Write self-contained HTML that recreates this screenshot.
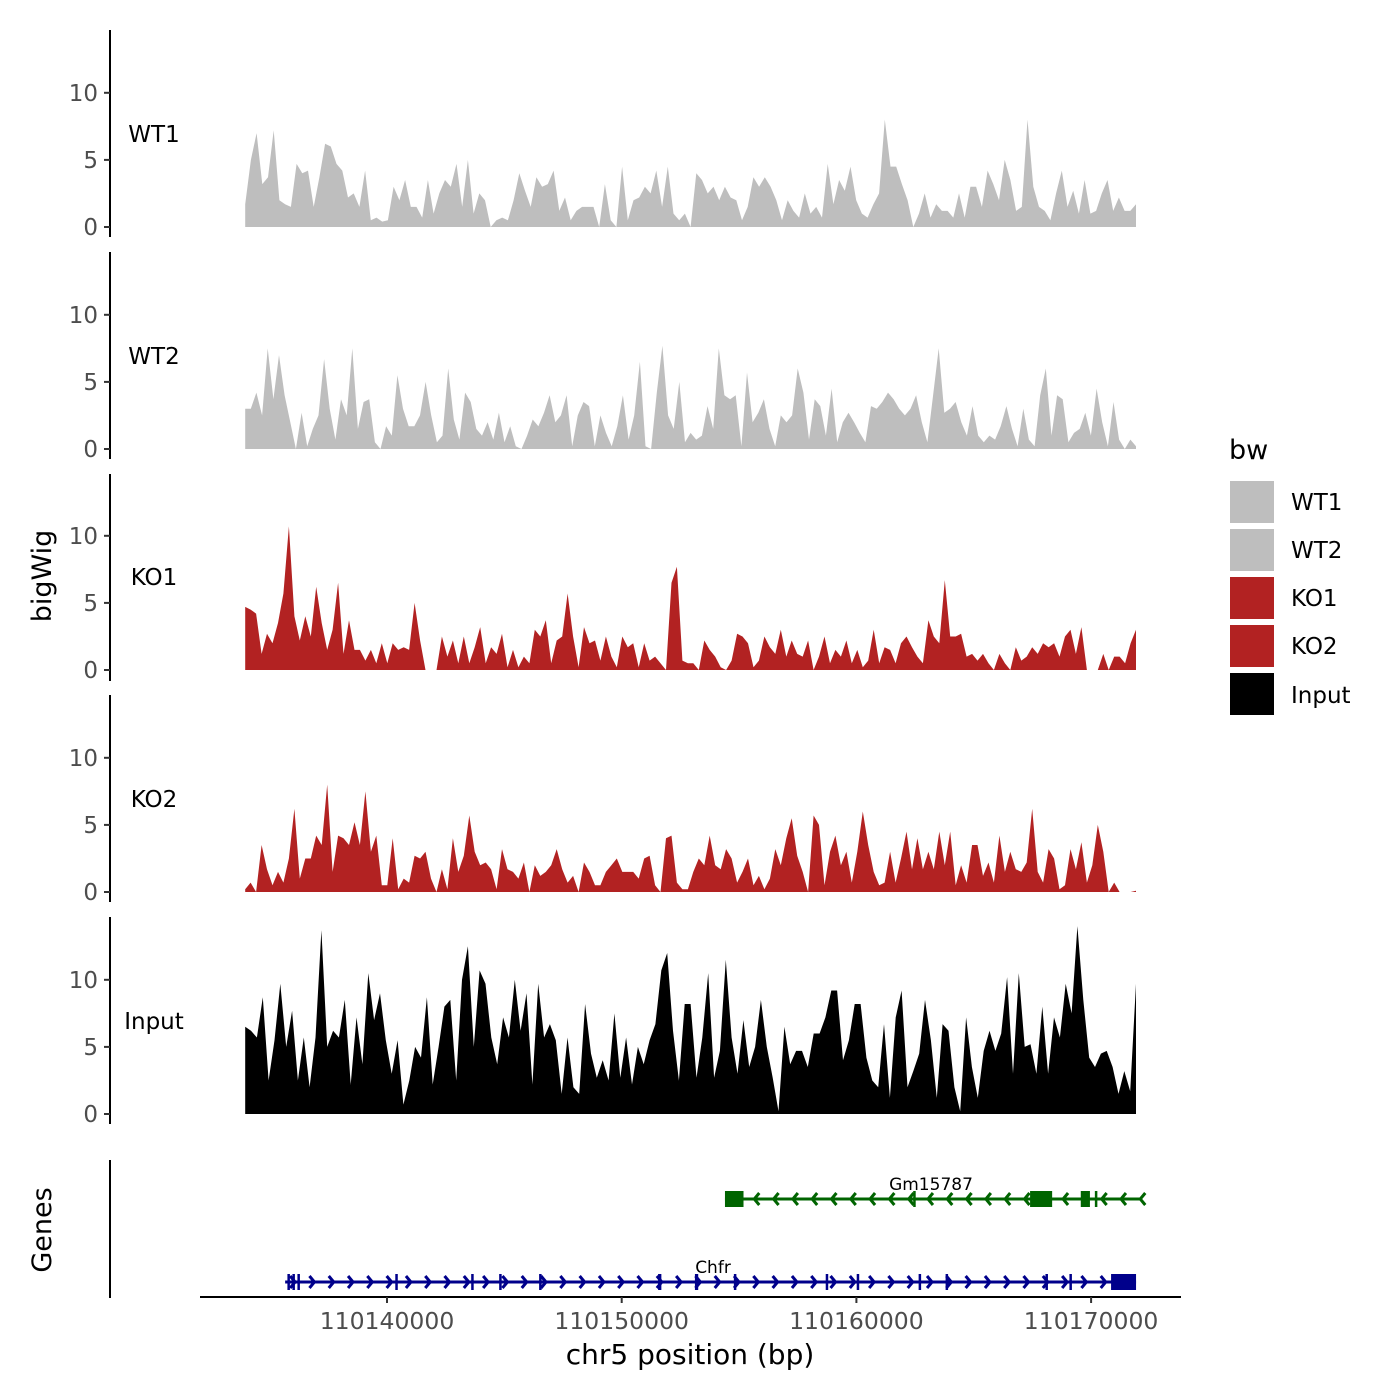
<!DOCTYPE html>
<html><head><meta charset="utf-8"><style>
html,body{margin:0;padding:0;background:#fff;}
svg{display:block;font-family:"DejaVu Sans","Liberation Sans",sans-serif;}
</style></head><body>
<svg id="chart" width="1400" height="1400" viewBox="0 0 1400 1400" xmlns="http://www.w3.org/2000/svg">
<rect width="1400" height="1400" fill="#fff"/>
<g id="tracks"></g>
<g id="genes"></g>
<text x="51" y="576" transform="rotate(-90 51 576)" text-anchor="middle" font-size="27" fill="#000">bigWig</text>
<text x="51" y="1230" transform="rotate(-90 51 1230)" text-anchor="middle" font-size="27" fill="#000">Genes</text>
<text x="690" y="1364" text-anchor="middle" font-size="28" fill="#000">chr5 position (bp)</text>
<g>
<text x="1229" y="459" font-size="27" fill="#000">bw</text>
<rect x="1230" y="481" width="44" height="42" fill="#bebebe"/>
<rect x="1230" y="529" width="44" height="42" fill="#bebebe"/>
<rect x="1230" y="577" width="44" height="42" fill="#b22222"/>
<rect x="1230" y="625" width="44" height="42" fill="#b22222"/>
<rect x="1230" y="673" width="44" height="42" fill="#000"/>
<text x="1291" y="510" font-size="23">WT1</text>
<text x="1291" y="558" font-size="23">WT2</text>
<text x="1291" y="606" font-size="23">KO1</text>
<text x="1291" y="654" font-size="23">KO2</text>
<text x="1291" y="703" font-size="23">Input</text>
</g>
</svg>
<script>
const trackNames = ["WT1","WT2","KO1","KO2","Input"];
const trackColors = ["#bebebe","#bebebe","#b22222","#b22222","#000000"];
const yTicks = [0,5,10];
const xTickValues = [110140000,110150000,110160000,110170000];
const xTickLabels = ["110140000","110150000","110160000","110170000"];
const startBp = 110133957;
const endBp = 110171915;
const wt1 = [1.7,5,7,3.2,3.7,7.2,2,1.7,1.5,4.7,4,4.2,1.5,3.7,6.2,6,4.7,4.2,2.2,2.5,1.5,4.2,0.5,0.7,0.4,0.5,3,2,3.5,1.5,1.5,0.7,3.5,1,2.5,3.5,3,4.7,1.5,5,1,2.5,2,0,0.5,0.7,0.5,2,4,2.7,1.5,3.7,3,3.2,4.2,1.2,2.2,0.5,1.2,1.5,1.5,1.5,0,3.2,0.5,0,4.5,0.5,2,2.2,3,2.5,4.2,1.5,4.5,1,0.5,1,0,4,3.5,2.5,3,2,3,2.2,2,0.5,1.5,3.7,3,3.7,3,2,0.5,2,1.2,0.7,2.5,1,1.5,0.7,4.7,1.7,3.5,2.7,4.5,2,1,0.7,1.7,2.5,8,4.5,4.5,3.2,2,0,1,2.5,0.7,1.7,1.2,1.2,0.7,2.5,0.7,3,3,1.5,4.2,3.2,2,5,3.5,1.2,1.5,8,3,1.5,1.2,0.5,2.5,4.2,1.5,2.7,1,3.5,1,1.2,2.5,3.5,1.2,2.2,1.2,1.2,1.7];
const wt2 = [3,3,4.2,2.5,7.5,3.7,7,4,2,0,2.7,0.2,1.5,2.5,6.7,3,0.7,3.7,2.5,7.5,1.5,3.5,3.7,0.5,0,1.7,1,5.5,3,1.7,1.7,2.5,5,2.5,0.5,1,6,2.2,0.7,4.2,3.5,1.5,1,2,0.7,2.7,0.5,1.7,0.2,0,1,2.2,1.7,2.7,4,2,2.5,4,0.2,2.5,3.5,3.2,0.2,2.5,1.2,0.2,1.7,4,0.7,2.5,6.5,0.2,0,4.2,7.7,2.5,1.5,5,0.5,1.2,0.7,1,3.2,1.5,7.5,4,3.7,4,0.2,5.7,2,2.7,3.7,1.5,0.2,2.5,2,2.5,6,4.2,0.7,3.7,3.2,1,4.5,0.5,2,2.7,2,1.2,0.5,3.2,3,3.5,4.2,3.7,3,2.5,3,4,2,0.5,4,7.5,2.7,3,3.5,2,1,3.2,1,0.5,1,0.7,1.7,3.2,1.5,0.2,3,0.7,0.2,4,6,1,4,3.7,0.5,1.2,1.5,2.7,1,4.5,2,0.2,3.5,0.7,0,0.7,0.2];
const ko1 = [4.7,4.5,4.2,1.2,2.7,2,3.5,5.7,10.7,4,2.2,4,2.5,6.2,3.5,1.5,3,6.5,1.2,3.7,1.5,1.5,0.7,1.5,0.5,2,0.5,2,1.5,1.7,1.5,5,2.2,0,0,0,2.5,1,2.2,0.5,2.5,0.5,1.7,3.2,0.5,1.7,1.2,2.7,0.2,1.5,0.2,1,0.5,3,2.5,3.7,0.5,2.2,2.5,5.7,2.5,0.2,3.2,2,2.2,0.7,2.5,1,0.2,2.5,1.7,2,0.2,2,0.7,1,0.5,0,6.5,7.7,0.7,0.5,0.5,0,2.2,1.5,1,0.2,0,0.7,2.7,2.5,2,0.2,0.7,2.5,1.7,1.2,3,1,2.2,1.2,1,2.2,0,1,2.5,0.5,1.5,1,2.2,0.5,1.5,0.2,0.7,3,0.5,1.7,1.5,0.5,2,2.5,1.7,1,0.5,3.7,2.5,2,6.7,2.5,2.5,2.7,1,1.2,0.7,1.2,0.5,0,1.2,0.5,0,1.7,0.7,1,1.7,1.2,2,1.7,2,1,2.5,3,1.2,3.2,0,0,0,1.2,0,1,1,0.5,2,3];
const ko2 = [0.2,0.7,0,3.5,1.7,0.5,1.5,0.7,2.5,6.2,1,2.5,2.5,4.2,3.5,8,1.5,4.2,4,3.5,5.2,3.5,7.5,3,4.2,0.5,0.5,4,0.2,1,0.7,2.7,2.5,3,1,0,1.7,0.2,4,1.5,2.7,5.7,3,2,2.2,1.7,0.2,3.2,1.7,1.5,1,2.2,0,2,1.2,1.5,2,3.2,1.7,0.7,1.2,0,2.2,1.5,0.5,0.5,1.5,2,2.5,1.5,1.5,1.5,1,2.5,2.7,0.5,0,4,4.2,0.7,0.2,0.2,1.5,2.5,2,4.2,2,1.7,3.2,2.5,0.7,1.5,2.5,0.5,1.2,0.2,1,3.2,2,4,5.5,2.7,1.5,0,5.7,5,0.5,3,4.2,2,3,0.7,3,6,3.5,1.5,0.5,0.7,3,0.7,2.5,4.5,1.7,4,1.7,3,1.7,4.5,2,4.5,0.5,2,0.7,3.5,3.5,1.2,2.2,0.7,4.2,1.5,3,1.7,1.5,2.2,6.2,1.5,0.7,3.2,2.5,0.2,0.5,3.2,1.7,3.7,0.7,2,5,3,0,0.7,0,0,0,0.1];
const inputSig = [6.5,6.2,5.7,8.7,2.5,5.5,9.7,5,7.7,2.5,5.7,2,5.7,13.7,5,6.2,5.7,8.5,2.2,7.2,3.7,10.5,7,9,5.5,3,5.5,0.7,2.5,5,4.2,8.7,2.2,5,8,8.5,2.5,10,12.5,5,10.7,9.7,5.7,3.7,7.2,5.7,10,6.2,9,2.2,9.7,5.7,6.7,5.5,1.5,5.7,2,1.5,8.2,4.5,2.7,4,2.5,7.5,2.7,5.7,2.2,5,3.7,5.5,6.7,10.7,12,6.2,2.5,8.2,8.2,2.7,5.7,10.5,2.7,4.7,11.5,5.7,3,7,3.5,5,8.5,5,2.7,0.2,6.5,3.7,4.7,4.7,3.5,6,6,7.2,9.2,9.2,4,5.5,8.2,8.2,4.2,2.5,2,6.7,1.2,7.2,9.2,2,3.2,4.5,8.5,5.5,1.2,6.7,6.2,2,0.2,7.2,3.5,1.2,4.7,6.2,4.7,6,10.2,3,10.5,5,5.2,3,8,3,7.2,5.7,9.7,7.5,14,8.5,4.2,3.5,4.5,4.7,3.5,1.5,3.2,1.7,9.7];
const trackData = [wt1, wt2, ko1, ko2, inputSig];

const geneNames = ["Gm15787","Chfr"];
const geneColors = ["#006400","#00008b"];
const geneStrands = [-1, 1];
const geneStarts = [110154400, 110135660];
const geneEnds = [110172130, 110171915];
const gm15787Exons = [[110154400,110155190],[110162420,110162520],[110167400,110168340],[110169560,110169950],[110170160,110170250]];
const chfrExons = [[110135757,110135817],[110135970,110136030],[110136183,110136243],[110140353,110140413],[110143587,110143647],[110144779,110144839],[110146481,110146541],[110151550,110151690],[110153120,110153260],[110154779,110154839],[110158693,110158753],[110160013,110160073],[110162651,110162711],[110163800,110163860],[110168055,110168115],[110169076,110169136],[110170851,110171915]];
const geneExons = [gm15787Exons, chfrExons];

const NS = "http://www.w3.org/2000/svg";
function mk(tag, attrs, parent){const e=document.createElementNS(NS,tag);for(const k in attrs)e.setAttribute(k,attrs[k]);parent.appendChild(e);return e;}
function xScale(bp){return 387 + (bp - 110140000) * 0.02347;}
const panelTop = [30,252,474,695,917];
const panelZero = [227,449,670,892,1114];
const pxPerUnit = 13.42;
function yScale(i, v){return panelZero[i] - v * pxPerUnit;}

const tracksG = document.getElementById('tracks');
trackNames.forEach((name, i) => {
  const g = mk('g', {}, tracksG);
  
  
  const vals = trackData[i];
  const n = vals.length;
  let d = 'M' + xScale(startBp).toFixed(1) + ',' + yScale(i, 0);
  vals.forEach((v, j) => {
    const bp = startBp + (endBp - startBp) * j / (n - 1);
    d += ' L' + xScale(bp).toFixed(1) + ',' + yScale(i, v).toFixed(1);
  });
  d += ' L' + xScale(endBp).toFixed(1) + ',' + yScale(i, 0) + ' Z';
  const p = mk('path', {d: d, fill: trackColors[i]}, g);
  
  
  const ax = mk('line', {x1:110, x2:110, y1:panelTop[i], y2:panelTop[i]+207, stroke:'#000', 'stroke-width':2}, g);
  
  
  yTicks.forEach(t => {
    const y = yScale(i, t);
    const tk = mk('line', {x1:104, x2:110, y1:y, y2:y, stroke:'#333', 'stroke-width':2}, g);
    
    
    const tl = mk('text', {x:98, y:y+8, 'text-anchor':'end', 'font-size':23, fill:'#4d4d4d'}, g);
    tl.textContent = t;
    
    
  });
  const lb = mk('text', {x:154, y:panelZero[i]-85, 'text-anchor':'middle', 'font-size':23, fill:'#000'}, g);
  lb.textContent = name;
  
  
});

const genesG = document.getElementById('genes');
const gax = mk('line', {x1:110, x2:110, y1:1160, y2:1298, stroke:'#000', 'stroke-width':2}, genesG);


const xax = mk('line', {x1:200, x2:1181, y1:1297, y2:1297, stroke:'#000', 'stroke-width':2}, genesG);


xTickValues.forEach((v, k) => {
  const x = xScale(v);
  const t = mk('line', {x1:x, x2:x, y1:1297, y2:1303, stroke:'#333', 'stroke-width':2}, genesG);
  
  
  const tl = mk('text', {x:x, y:1329, 'text-anchor':'middle', 'font-size':23.5, fill:'#4d4d4d'}, genesG);
  tl.textContent = xTickLabels[k];
  
  
});
const geneY = [1199, 1282];
geneNames.forEach((name, i) => {
  const g = mk('g', {}, genesG);
  
  
  const x1 = xScale(geneStarts[i]), x2 = xScale(geneEnds[i]), y = geneY[i], c = geneColors[i];
  const ln = mk('line', {x1:x1, x2:x2, y1:y, y2:y, stroke:c, 'stroke-width':3}, g);
  
  
  for (let x = x1 + 10; x <= x2 + 1; x += 19.3) {
    const s = geneStrands[i];
    const ch = mk('polyline', {points:(x - 5*s)+','+(y-6)+' '+x+','+y+' '+(x - 5*s)+','+(y+6), fill:'none', stroke:c, 'stroke-width':3}, g);
    
    
  }
  geneExons[i].forEach(ex => {
    const a = xScale(ex[0]), b = xScale(ex[1]);
    const r = mk('rect', {x:a, y:y-8, width:Math.max(b-a, 2.5), height:16, fill:c}, g);
    
    
  });
  const lab = mk('text', {x: i===0 ? 931 : 713, y: y - 9, 'text-anchor':'middle', 'font-size':17, fill:'#000'}, g);
  lab.textContent = name;
  
  
});
</script>
</body></html>
